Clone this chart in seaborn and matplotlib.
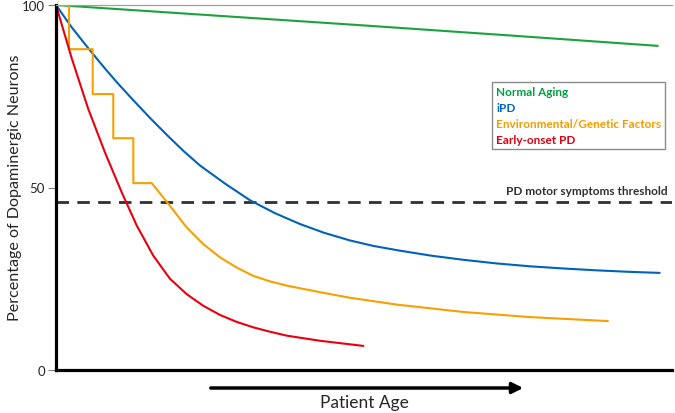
import matplotlib
matplotlib.use("Agg")
import matplotlib.pyplot as plt
import seaborn as sns

sns.set_theme(style="white")
plt.rcParams['font.family'] = ['Lato', 'DejaVu Sans']

# Data (age in arbitrary units 0-100, % dopaminergic neurons)
green_x = [0, 25, 50, 75, 97.7]
green_y = [100, 97.2, 94.4, 91.5, 88.8]

blue_x = [0, 2.5, 5.5, 8, 10, 12.5, 15.3, 18, 20.7, 23.4, 27.5, 31.5, 35.5, 39.6, 43.5,
          47.7, 51.5, 55.8, 61, 66.1, 71.5, 77, 82.5, 87.8, 93, 98]
blue_y = [100, 94.0, 87.6, 82.5, 78.6, 74.0, 69.0, 64.4, 60.0, 56.0, 51.0, 46.5, 43.0, 40.0, 37.6,
          35.5, 34.0, 32.7, 31.3, 30.2, 29.2, 28.4, 27.8, 27.3, 26.9, 26.6]

orange_x = [0, 2.11, 2.11, 5.96, 5.96, 9.30, 9.30, 12.55, 12.55, 15.54, 17.97, 21.2, 23.9,
            26.6, 29.3, 32.0, 34.7, 37.5, 42.9, 47.7, 55.4, 66.1, 76.9, 89.6]
orange_y = [100, 100, 87.9, 87.9, 75.6, 75.6, 63.5, 63.5, 51.2, 51.2, 46.1, 39.1, 34.5,
            30.9, 28.1, 25.8, 24.3, 23.1, 21.3, 19.8, 17.9, 15.9, 14.5, 13.4]

red_x = [0, 2.55, 5.24, 7.95, 10.66, 13.1, 15.8, 18.5, 21.2, 23.9, 26.6, 29.3,
         32.0, 34.7, 37.5, 42.9, 49.9]
red_y = [100, 85.4, 71.5, 59.6, 48.7, 39.6, 31.3, 25.0, 20.8, 17.6, 15.1, 13.2,
         11.7, 10.5, 9.4, 8.0, 6.6]

threshold = 46.1
labels = ["Normal Aging", "iPD", "Environmental/Genetic Factors", "Early-onset PD"]
line_colors = ["#1aa33a", "#0062b8", "#f7a000", "#e8000f"]
text_colors = ["#00a040", "#0066c0", "#f59d00", "#e00010"]
yticks = [0, 50, 100]

fig = plt.figure(figsize=(6.75, 4.14), dpi=100)
ax = fig.add_axes([56/675, 1-371/414, (672-56)/675, (371-6)/414])

series = [(green_x, green_y), (blue_x, blue_y), (orange_x, orange_y), (red_x, red_y)]
for (xs, ys), c, lab in zip(series, line_colors, labels):
    sns.lineplot(x=xs, y=ys, ax=ax, color=c, lw=1.5, sort=False, estimator=None, label=lab)
for line in ax.get_lines():
    line.set_solid_joinstyle("round")

ax.axhline(threshold, color="#303030", lw=2.0, ls=(0, (4.5, 3)), zorder=1)
ax.text(99.3, threshold + 1.6, "PD motor symptoms threshold", ha="right", va="bottom",
        fontsize=8.5, fontweight="bold", color="#303030")

ax.set_xlim(0, 100)
ax.set_ylim(0, 100)
ax.set_xticks([])
ax.set_yticks(yticks)
ax.set_yticklabels([str(t) for t in yticks], fontsize=9.5)
ax.tick_params(axis="y", direction="out", length=6, width=0.8, color="#808080", pad=2, left=True)

for s in ["left", "bottom"]:
    ax.spines[s].set_color("black")
    ax.spines[s].set_linewidth(2.3)
ax.spines["top"].set_color("#a0a0a0")
ax.spines["top"].set_linewidth(0.9)
ax.spines["right"].set_visible(False)

leg = ax.legend(loc="upper left", bbox_to_anchor=((492-56)/616, 1-(83-6)/365),
                handlelength=0, handletextpad=0, frameon=True, fancybox=False,
                prop={"weight": "bold", "size": 8.5}, borderpad=0.35, labelspacing=0.42,
                borderaxespad=0)
leg.get_frame().set_edgecolor("#707070")
leg.get_frame().set_linewidth(1.0)
for txt, c in zip(leg.get_texts(), text_colors):
    txt.set_color(c)
for h in leg.legend_handles:
    h.set_visible(False)

fig.text(15/675, 1-188/414, "Percentage of Dopaminergic Neurons", rotation=90,
         ha="center", va="center", fontsize=11.6)
fig.text(364/675, 1-403/414, "Patient Age", ha="center", va="center", fontsize=12.5)
fig.patches.append(matplotlib.patches.FancyArrowPatch(
    (208/675, 1-389/414), (526/675, 1-389/414), transform=fig.transFigure,
    arrowstyle="-|>", mutation_scale=16, lw=2.5, color="black"))

fig.savefig("out.png", dpi=100)
